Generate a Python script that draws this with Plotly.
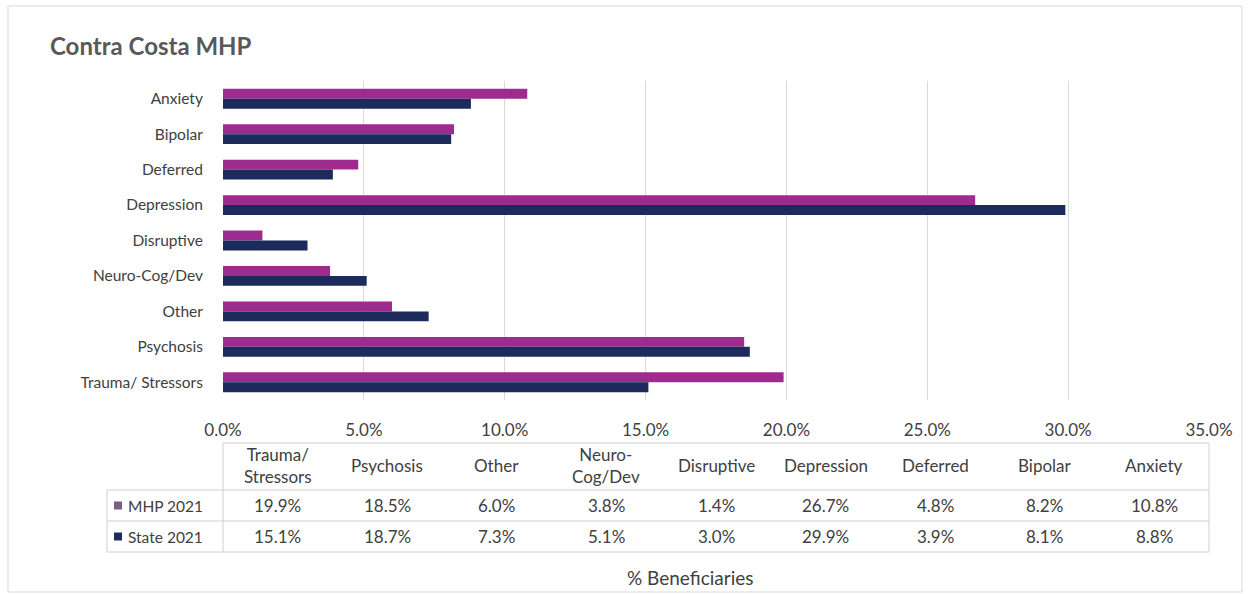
import plotly.graph_objects as go

# ---- data ----
categories = ["Anxiety", "Bipolar", "Deferred", "Depression", "Disruptive",
              "Neuro-Cog/Dev", "Other", "Psychosis", "Trauma/ Stressors"]
mhp_2021 = [10.8, 8.2, 4.8, 26.7, 1.4, 3.8, 6.0, 18.5, 19.9]
state_2021 = [8.8, 8.1, 3.9, 29.9, 3.0, 5.1, 7.3, 18.7, 15.1]
series_names = ["MHP 2021", "State 2021"]
table_headers = ["Trauma/<br>Stressors", "Psychosis", "Other", "Neuro-<br>Cog/Dev",
                 "Disruptive", "Depression", "Deferred", "Bipolar", "Anxiety"]
x_ticks = [0, 5, 10, 15, 20, 25, 30, 35]
title_text = "Contra Costa MHP"
x_title = "% Beneficiaries"

# ---- style ----
W, H = 1250, 594
ML, MR, MT, MB = 223, 41, 81, 194
C_MHP = "#9E2C8E"
C_STATE = "#1C2A5C"
FONT = "Lato"
TXT = "#404040"
XMAX = 35
TBL_FS = 17

plot_h = H - MT - MB
plot_w = W - ML - MR


def py(ypx):
    """pixel y (from top) -> paper y"""
    return (H - MB - ypx) / plot_h


def px(xpx):
    return (xpx - ML) / plot_w


fig = go.Figure()
fig.add_trace(go.Bar(y=categories, x=mhp_2021, orientation="h", name=series_names[0],
                     marker=dict(color=C_MHP, line=dict(width=0))))
fig.add_trace(go.Bar(y=categories, x=state_2021, orientation="h", name=series_names[1],
                     marker=dict(color=C_STATE, line=dict(width=0))))

annotations = []
shapes = []

# title
annotations.append(dict(text=f"<b>{title_text}</b>", xref="paper", yref="paper",
                        x=px(48), y=py(45), xanchor="left", yanchor="middle",
                        showarrow=False, font=dict(family=FONT, size=24, color="#595959")))

# data table
row_lines = [443, 490, 521, 552]
leg_left = 107
header_vals = table_headers
# vertical lines
shapes.append(dict(type="line", xref="paper", yref="paper", x0=0, x1=0,
                   y0=py(row_lines[0]), y1=py(row_lines[3]),
                   line=dict(color="#D0D0D0", width=1)))
shapes.append(dict(type="line", xref="paper", yref="paper", x0=1, x1=1,
                   y0=py(row_lines[0]), y1=py(row_lines[3]),
                   line=dict(color="#D0D0D0", width=1)))
shapes.append(dict(type="line", xref="paper", yref="paper", x0=px(leg_left), x1=px(leg_left),
                   y0=py(row_lines[1]), y1=py(row_lines[3]),
                   line=dict(color="#D0D0D0", width=1)))
# horizontal lines
shapes.append(dict(type="line", xref="paper", yref="paper", x0=0, x1=1,
                   y0=py(row_lines[0]), y1=py(row_lines[0]),
                   line=dict(color="#D0D0D0", width=1)))
for yl in row_lines[1:]:
    shapes.append(dict(type="line", xref="paper", yref="paper", x0=px(leg_left), x1=1,
                       y0=py(yl), y1=py(yl), line=dict(color="#D0D0D0", width=1)))

ncol = len(header_vals)
colw = XMAX / ncol
tbl_mhp = mhp_2021[::-1]
tbl_state = state_2021[::-1]
for i, h in enumerate(header_vals):
    xc = (i + 0.5) * colw / XMAX
    annotations.append(dict(text=h, xref="paper", yref="paper", x=xc, y=py(465),
                            xanchor="center", yanchor="middle", showarrow=False,
                            font=dict(family=FONT, size=TBL_FS, color=TXT)))
    annotations.append(dict(text=f"{tbl_mhp[i]:.1f}%", xref="paper", yref="paper", x=xc,
                            y=py(505.5), xanchor="center", yanchor="middle", showarrow=False,
                            font=dict(family=FONT, size=TBL_FS, color=TXT)))
    annotations.append(dict(text=f"{tbl_state[i]:.1f}%", xref="paper", yref="paper", x=xc,
                            y=py(536.5), xanchor="center", yanchor="middle", showarrow=False,
                            font=dict(family=FONT, size=TBL_FS, color=TXT)))

# legend keys in table
for name, col, yc in [(series_names[0], "#7A5E88", 505.5), (series_names[1], C_STATE, 536.5)]:
    shapes.append(dict(type="rect", xref="paper", yref="paper", x0=px(114), x1=px(122),
                       y0=py(yc + 4), y1=py(yc - 4), fillcolor=col, line=dict(width=0)))
    annotations.append(dict(text=name, xref="paper", yref="paper", x=px(126), y=py(yc),
                            xanchor="left", yanchor="middle", showarrow=False,
                            font=dict(family=FONT, size=15.5, color=TXT)))

# axis title
annotations.append(dict(text=x_title, xref="paper", yref="paper", x=px(690), y=py(577),
                        xanchor="center", yanchor="middle", showarrow=False,
                        font=dict(family=FONT, size=19, color=TXT)))

# outer border
shapes.append(dict(type="rect", xref="paper", yref="paper", x0=px(8), x1=px(1242),
                   y0=py(592), y1=py(6), line=dict(color="#D9D9D9", width=1),
                   fillcolor="rgba(0,0,0,0)", layer="below"))

fig.update_layout(
    width=W, height=H,
    margin=dict(l=ML, r=MR, t=MT, b=MB),
    paper_bgcolor="white", plot_bgcolor="white",
    barmode="group", bargap=0.44, bargroupgap=0,
    showlegend=False,
    font=dict(family=FONT, size=15, color=TXT),
    annotations=annotations, shapes=shapes,
    xaxis=dict(range=[0, XMAX], tickvals=x_ticks, ticktext=[f"{v:.1f}%" for v in x_ticks],
               showgrid=True, gridcolor="#D9D9D9", gridwidth=1, zeroline=False,
               ticks="outside", ticklen=15, tickcolor="rgba(0,0,0,0)",
               tickfont=dict(family=FONT, size=17, color=TXT), showline=False),
    yaxis=dict(categoryorder="array", categoryarray=categories, autorange="reversed",
               showgrid=False, zeroline=False, showline=False,
               ticks="outside", ticklen=16, tickcolor="rgba(0,0,0,0)",
               tickfont=dict(family=FONT, size=15.5, color=TXT)),
)

fig.write_html("out.html")
